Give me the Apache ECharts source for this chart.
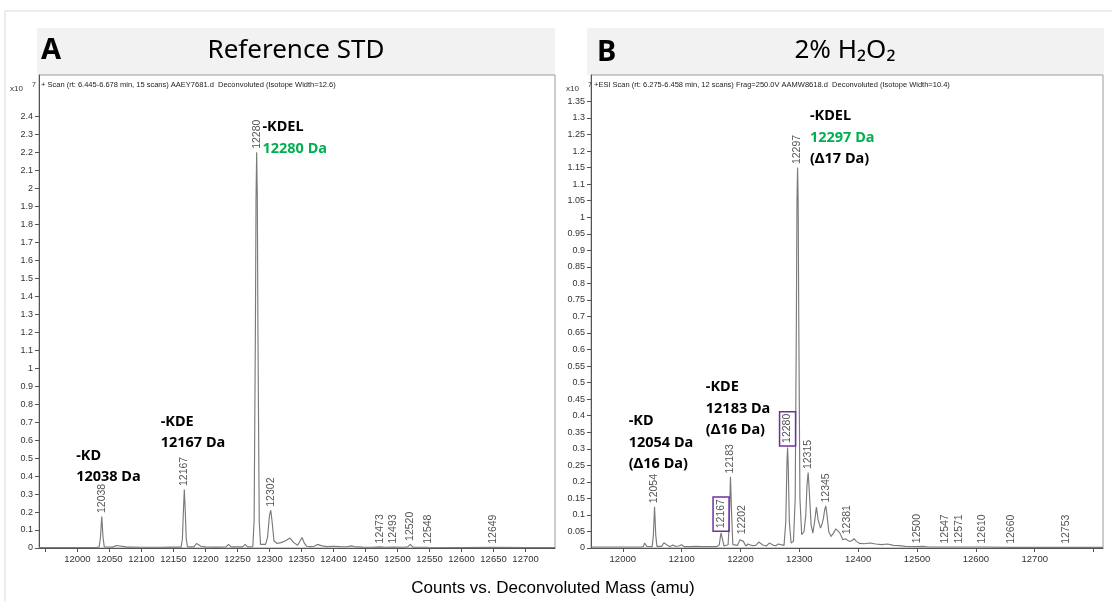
<!DOCTYPE html>
<html><head><meta charset="utf-8">
<script src="https://cdn.jsdelivr.net/npm/echarts@6/dist/echarts.min.js"></script>
<style>html,body{margin:0;padding:0;background:#fff}#c{width:1112px;height:601px}</style>
</head><body><div id="c"></div>
<script>
// ---- Panel A spectrum (Reference STD), counts x10^7 ----
const massA = [11940,11990,12030,12034,12036,12038,12040,12042,12055,12058,12061,12064,12078,12081,12084,12100,12130,12145,12148,12151,12162,12164,12165.5,12167,12168.5,12170,12172,12182,12186,12189,12193,12200,12214,12217,12220,12232,12236,12240,12258,12262,12266,12274,12276,12278,12279,12280,12281,12282,12284,12286,12294,12297,12300,12302,12304,12307,12312,12318,12325,12332,12338,12344,12348,12351,12354,12358,12365,12370,12375,12378,12382,12390,12400,12410,12420,12428,12432,12445,12460,12473,12480,12493,12510,12516,12520,12524,12548,12600,12649,12700,12746];
const intA  = [0.003,0.003,0.003,0.006,0.06,0.175,0.06,0.006,0.005,0.012,0.014,0.006,0.005,0.009,0.005,0.004,0.004,0.005,0.01,0.005,0.005,0.05,0.2,0.325,0.2,0.05,0.006,0.006,0.025,0.03,0.01,0.006,0.005,0.01,0.005,0.006,0.02,0.006,0.006,0.02,0.006,0.008,0.15,1.2,1.95,2.2,1.95,1.2,0.15,0.02,0.02,0.06,0.18,0.21,0.15,0.04,0.025,0.03,0.04,0.055,0.03,0.015,0.04,0.058,0.03,0.01,0.008,0.01,0.02,0.025,0.012,0.008,0.01,0.008,0.007,0.012,0.008,0.005,0.004,0.006,0.004,0.005,0.004,0.006,0.02,0.005,0.004,0.003,0.004,0.003,0.003];
// ---- Panel B spectrum (2% H2O2), counts x10^7 ----
const massB = [11946,12000,12030,12035,12037,12039,12041,12050,12052,12054,12056,12058,12066,12070,12073,12076,12080,12085,12089,12095,12100,12104,12115,12125,12135,12160,12164,12166,12167,12169,12172,12179,12181,12183,12185,12187,12195,12199,12202,12205,12209,12213,12216,12220,12226,12231,12234,12238,12244,12249,12252,12256,12260,12264,12267,12274,12277,12279,12280,12281,12283,12286,12290,12293,12295,12296,12297,12298,12299,12301,12304,12308,12311,12313,12315,12317,12320,12323,12326,12329,12332,12336,12339,12341,12343,12345,12347,12350,12354,12358,12362,12365,12369,12374,12378,12381,12385,12389,12393,12397,12402,12410,12420,12430,12440,12450,12460,12470,12480,12500,12510,12520,12547,12571,12610,12660,12753,12816];
const intB  = [0.003,0.003,0.003,0.004,0.015,0.02,0.005,0.004,0.04,0.125,0.04,0.005,0.005,0.016,0.019,0.008,0.004,0.009,0.005,0.006,0.01,0.004,0.004,0.005,0.004,0.004,0.01,0.035,0.046,0.03,0.006,0.01,0.08,0.215,0.1,0.01,0.008,0.025,0.031,0.02,0.006,0.012,0.015,0.007,0.008,0.018,0.02,0.009,0.006,0.015,0.018,0.008,0.007,0.012,0.006,0.008,0.08,0.26,0.304,0.26,0.08,0.015,0.02,0.15,0.7,1.05,1.15,1.05,0.7,0.15,0.04,0.05,0.1,0.19,0.228,0.17,0.07,0.045,0.08,0.124,0.085,0.06,0.075,0.09,0.115,0.127,0.1,0.05,0.035,0.045,0.058,0.062,0.045,0.025,0.028,0.031,0.02,0.022,0.028,0.02,0.014,0.013,0.015,0.012,0.01,0.012,0.008,0.007,0.005,0.004,0.005,0.003,0.003,0.003,0.003,0.002,0.002,0.002];
// ---- peak labels ----
const peakMassA = [12038,12167,12280,12302,12473,12493,12520,12548,12649];
const peakIntA  = [0.175,0.325,2.2,0.21,0.006,0.005,0.02,0.004,0.004];
const peakMassB = [12054,12167,12183,12202,12280,12297,12315,12345,12381,12500,12547,12571,12610,12660,12753];
const peakIntB  = [0.125,0.046,0.215,0.031,0.304,1.15,0.228,0.127,0.031,0.004,0.003,0.003,0.003,0.002,0.002];
const boxedB = [12167,12280];
// ---- annotations (anchor = top-left of text block, in data units) ----
const annMassA = [11998,12130,12289];
const annIntA  = [0.573,0.763,2.40];
const annTextA = [['-KD','12038 Da'],['-KDE','12167 Da'],['-KDEL','12280 Da']];
const annGreenA = [-1,-1,1];
const annMassB = [12010,12141,12318];
const annIntB  = [0.416,0.519,1.338];
const annTextB = [['-KD','12054 Da','(Δ16 Da)'],['-KDE','12183 Da','(Δ16 Da)'],['-KDEL','12297 Da','(Δ17 Da)']];
const annGreenB = [-1,-1,1];
// ---- ticks ----
const yTicksA = [0,0.1,0.2,0.3,0.4,0.5,0.6,0.7,0.8,0.9,1,1.1,1.2,1.3,1.4,1.5,1.6,1.7,1.8,1.9,2,2.1,2.2,2.3,2.4];
const yTicksB = [0,0.05,0.1,0.15,0.2,0.25,0.3,0.35,0.4,0.45,0.5,0.55,0.6,0.65,0.7,0.75,0.8,0.85,0.9,0.95,1,1.05,1.1,1.15,1.2,1.25,1.3,1.35];
const xTicksA = [11950,12000,12050,12100,12150,12200,12250,12300,12350,12400,12450,12500,12550,12600,12650,12700];
const xLabelsA = [12000,12050,12100,12150,12200,12250,12300,12350,12400,12450,12500,12550,12600,12650,12700];
const xTicksB = [12000,12100,12200,12300,12400,12500,12600,12700,12800];
const xLabelsB = [12000,12100,12200,12300,12400,12500,12600,12700];

const zip = (a,b) => a.map((v,i)=>[v,b[i]]);
const fmt = v => String(+(+v).toFixed(2));
const SANS = '"Liberation Sans", Arial, sans-serif';
const NOTO = '"Noto Sans", sans-serif';
const CLEAR = {color:'rgba(0,0,0,0)',opacity:1};

function xAxis(idx,min,max,ticks,labels){
  return {type:'value',gridIndex:idx,min:min,max:max,
    axisLine:{show:true,onZero:false,lineStyle:{color:'#555',width:1}},
    axisTick:{show:true,length:4,customValues:ticks,lineStyle:{color:'#555'}},
    axisLabel:{customValues:labels,color:'#333',fontSize:9.5,fontFamily:SANS,margin:6,formatter:fmt},
    splitLine:{show:false}};
}
function yAxis(idx,max,ticks){
  return {type:'value',gridIndex:idx,min:0,max:max,
    axisLine:{show:true,lineStyle:{color:'#555',width:1}},
    axisTick:{show:true,length:4,customValues:ticks,lineStyle:{color:'#555'}},
    axisLabel:{customValues:ticks,color:'#333',fontSize:9,fontFamily:SANS,margin:6,formatter:fmt},
    splitLine:{show:false}};
}
function spectrum(idx,m,v){
  return {type:'line',xAxisIndex:idx,yAxisIndex:idx,data:zip(m,v),symbol:'none',silent:true,
    lineStyle:{color:'#7a7a7a',width:1.15},z:2,animation:false};
}
function peakLabels(idx,m,v,boxed){
  return {type:'scatter',xAxisIndex:idx,yAxisIndex:idx,symbolSize:1,itemStyle:CLEAR,silent:true,animation:false,
    data:m.map((x,i)=>{
      const d={value:[x,v[i]]};
      if(boxed && boxed.includes(x)){
        d.label={borderColor:'#7030a0',borderWidth:1.5,padding:[3,2,2,3],distance:1};
      }
      return d;
    }),
    label:{show:true,position:'top',rotate:90,align:'left',verticalAlign:'middle',distance:3,
      color:'#555',fontSize:10.5,fontFamily:SANS,formatter:p=>String(p.value[0])},z:5};
}
function annotations(idx,m,v,texts,green){
  return {type:'scatter',xAxisIndex:idx,yAxisIndex:idx,symbolSize:0,itemStyle:CLEAR,silent:true,animation:false,
    data:m.map((x,i)=>({value:[x,v[i]],txt:texts[i],g:green[i]})),
    label:{show:true,position:[0,0],align:'left',verticalAlign:'top',
      formatter:p=>{
        const d=p.data; return d.txt.map((t,j)=> j===d.g ? '{g|'+t+'}' : '{b|'+t+'}').join('\n');
      },
      rich:{b:{fontFamily:NOTO,fontWeight:'bold',fontSize:14.5,color:'#000',lineHeight:21.5},
            g:{fontFamily:NOTO,fontWeight:'bold',fontSize:14.5,color:'#00b050',lineHeight:21.5}}},z:6};
}

const chart = echarts.init(document.getElementById('c'),null,{renderer:'canvas'});
chart.setOption({
  animation:false,
  backgroundColor:'#fff',
  grid:[
    {left:39,top:75,width:516,height:473,show:true,borderColor:'#9a9a9a',borderWidth:1,containLabel:false},
    {left:591,top:75,width:512,height:473,show:true,borderColor:'#9a9a9a',borderWidth:1,containLabel:false}
  ],
  xAxis:[xAxis(0,11940,12746,xTicksA,xLabelsA), xAxis(1,11946,12816,xTicksB,xLabelsB)],
  yAxis:[yAxis(0,2.63,yTicksA), yAxis(1,1.43,yTicksB)],
  series:[
    spectrum(0,massA,intA), spectrum(1,massB,intB),
    peakLabels(0,peakMassA,peakIntA,null), peakLabels(1,peakMassB,peakIntB,boxedB),
    annotations(0,annMassA,annIntA,annTextA,annGreenA), annotations(1,annMassB,annIntB,annTextB,annGreenB)
  ],
  graphic:[
    {type:'rect',shape:{x:5,y:11,width:1130,height:620},style:{fill:'none',stroke:'#d9d9d9',lineWidth:1},z:-10,silent:true},
    {type:'rect',shape:{x:37,y:28,width:518,height:47},style:{fill:'#f2f2f2'},z:-5,silent:true},
    {type:'rect',shape:{x:587,y:28,width:517,height:47},style:{fill:'#f2f2f2'},z:-5,silent:true},
    {type:'text',x:41,y:51,style:{text:'A',font:'bold 29px "Noto Sans", sans-serif',fill:'#000',verticalAlign:'middle'},silent:true},
    {type:'text',x:296,y:51,style:{text:'Reference STD',font:'26px "Noto Sans", sans-serif',fill:'#000',align:'center',verticalAlign:'middle'},silent:true},
    {type:'text',x:597,y:53,style:{text:'B',font:'bold 29px "Noto Sans", sans-serif',fill:'#000',verticalAlign:'middle'},silent:true},
    {type:'text',x:845,y:51,style:{text:'2% H₂O₂',font:'26px "Noto Sans", sans-serif',fill:'#000',align:'center',verticalAlign:'middle'},silent:true},
    {type:'text',x:41,y:85,style:{text:'+ Scan (rt: 6.445-6.678 min, 15 scans) AAEY7681.d  Deconvoluted (Isotope Width=12.6)',font:'7.5px "Liberation Sans", Arial, sans-serif',fill:'#222',verticalAlign:'middle'},silent:true},
    {type:'text',x:594,y:85,style:{text:'+ESI Scan (rt: 6.275-6.458 min, 12 scans) Frag=250.0V AAMW8618.d  Deconvoluted (Isotope Width=10.4)',font:'7.5px "Liberation Sans", Arial, sans-serif',fill:'#222',verticalAlign:'middle'},silent:true},
    {type:'text',x:10,y:89,style:{text:'x10',font:'8px "Liberation Sans", Arial, sans-serif',fill:'#333',verticalAlign:'middle'},silent:true},
    {type:'text',x:32,y:85,style:{text:'7',font:'7px "Liberation Sans", Arial, sans-serif',fill:'#333',verticalAlign:'middle'},silent:true},
    {type:'text',x:566,y:89,style:{text:'x10',font:'8px "Liberation Sans", Arial, sans-serif',fill:'#333',verticalAlign:'middle'},silent:true},
    {type:'text',x:588,y:85,style:{text:'7',font:'7px "Liberation Sans", Arial, sans-serif',fill:'#333',verticalAlign:'middle'},silent:true},
    {type:'text',x:553,y:588,style:{text:'Counts vs. Deconvoluted Mass (amu)',font:'17px "Liberation Sans", Arial, sans-serif',fill:'#000',align:'center',verticalAlign:'middle'},silent:true}
  ]
});
</script></body></html>
